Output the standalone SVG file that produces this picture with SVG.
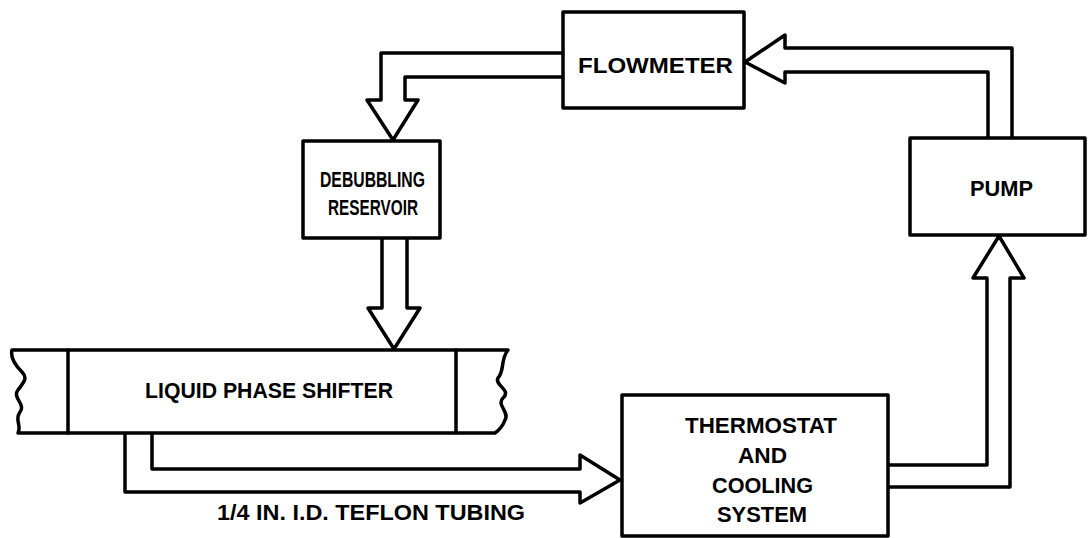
<svg xmlns="http://www.w3.org/2000/svg" width="1089" height="538" viewBox="0 0 1089 538">
<style>
.box{fill:#fff;stroke:#000;stroke-width:3.5;stroke-linejoin:round}
.pipe{fill:none;stroke:#000;stroke-width:3.5;stroke-linejoin:round;stroke-linecap:round}
.lbl{font-family:"Liberation Sans",Arial,sans-serif;font-weight:bold;font-size:22px;fill:#000;text-anchor:start}
</style>
<rect width="1089" height="538" fill="#fff"/>
<g id="connectors">
<path class="pipe" d="M563,53 H381 V100 H367 L393,140 L418,100 H405 V77 H563"/>
<path class="pipe" d="M988,138 V72 H785 V83 L745,62 L785,35 V48 H1012 V138"/>
<path class="pipe" d="M382,238 V308 H368 L394,349 L420,308 H407 V238"/>
<path class="pipe" d="M125,434 V492 H580 V503 L620,480 L580,455 V469 H152 V434"/>
<path class="pipe" d="M888,465 H987 V278 H973 L999,236 L1024,278 H1010 V487 H888"/>
</g>
<g id="flowmeter">
<rect class="box" x="563" y="12" width="181" height="96"/>
<text class="lbl" x="578" y="73" textLength="155" lengthAdjust="spacingAndGlyphs">FLOWMETER</text>
</g>
<g id="reservoir">
<rect class="box" x="303" y="141" width="137" height="97"/>
<text class="lbl" x="320" y="187" textLength="105" lengthAdjust="spacingAndGlyphs">DEBUBBLING</text>
<text class="lbl" x="328" y="215" textLength="90" lengthAdjust="spacingAndGlyphs">RESERVOIR</text>
</g>
<g id="pump">
<rect class="box" x="910" y="138" width="175" height="97"/>
<text class="lbl" x="970" y="196" textLength="63" lengthAdjust="spacingAndGlyphs">PUMP</text>
</g>
<g id="phase-shifter">
<path class="pipe" d="M12,350 H508 C500,360 505,370 498,378 C494,385 512,390 503,398 C496,405 510,412 505,420 C502,428 498,431 495,433 H18 C22,425 14,420 20,412 C26,404 12,398 18,390 C24,382 28,378 22,372 C16,366 10,358 12,350 Z"/>
<line class="pipe" x1="68" y1="350" x2="68" y2="433"/>
<line class="pipe" x1="456" y1="350" x2="456" y2="433"/>
<text class="lbl" x="145" y="398" textLength="248" lengthAdjust="spacingAndGlyphs">LIQUID PHASE SHIFTER</text>
</g>
<g id="thermostat">
<rect class="box" x="622" y="395" width="266" height="141"/>
<text class="lbl" x="685" y="433" textLength="152" lengthAdjust="spacingAndGlyphs">THERMOSTAT</text>
<text class="lbl" x="738" y="463" textLength="49" lengthAdjust="spacingAndGlyphs">AND</text>
<text class="lbl" x="712" y="493" textLength="101" lengthAdjust="spacingAndGlyphs">COOLING</text>
<text class="lbl" x="717" y="522" textLength="90" lengthAdjust="spacingAndGlyphs">SYSTEM</text>
</g>
<g id="tubing-label">
<text class="lbl" x="217" y="520" textLength="308" lengthAdjust="spacingAndGlyphs">1/4 IN. I.D. TEFLON TUBING</text>
</g>
</svg>
